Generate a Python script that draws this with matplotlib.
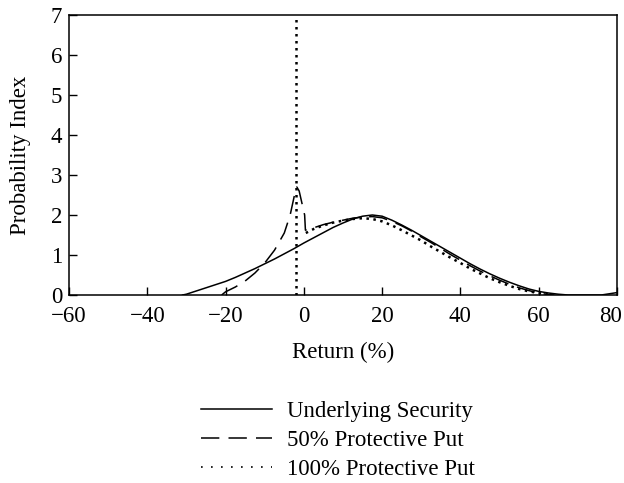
import matplotlib
matplotlib.use("Agg")
import matplotlib.pyplot as plt
from matplotlib.lines import Line2D
from matplotlib.transforms import ScaledTranslation

plt.rcParams['font.family'] = ['Liberation Serif', 'DejaVu Serif']
plt.rcParams['font.size'] = 16.5

# Underlying security (solid)
x_under = [-31, -30, -27.5, -25, -22.5, -20, -17.5, -15, -12.5, -10, -7.5, -5, -2.5, 0,
           2.5, 5, 7.5, 10, 12.5, 15, 17.5, 20, 22.5, 25, 27.5, 30, 32.5, 35, 37.5, 40,
           42.5, 45, 47.5, 50, 52.5, 55, 57.5, 60, 62.5, 65, 67.5, 76, 78, 80]
y_under = [0, 0.02, 0.1, 0.18, 0.26, 0.34, 0.44, 0.55, 0.66, 0.78, 0.9, 1.03, 1.16, 1.3,
           1.43, 1.56, 1.69, 1.8, 1.9, 1.97, 2.0, 1.97, 1.87, 1.75, 1.62, 1.48, 1.34, 1.2, 1.06, 0.92,
           0.78, 0.65, 0.53, 0.42, 0.32, 0.23, 0.15, 0.09, 0.05, 0.02, 0.0, 0.0, 0.03, 0.06]

# 50% protective put (dashed)
x_put50 = [-21, -20, -17.5, -15, -12.5, -10, -7.5, -5, -3.5, -2.5, -1.8, -1.2, -0.5, 0.2, 0.4,
           2.5, 5, 7.5, 10, 12.5, 15, 17.5, 20, 22.5, 25, 27.5, 30, 32.5, 35, 37.5, 40,
           42.5, 45, 47.5, 50, 52.5, 55, 57.5, 60, 62.5, 64]
y_put50 = [0, 0.08, 0.2, 0.35, 0.55, 0.8, 1.12, 1.55, 2.0, 2.45, 2.7, 2.6, 2.3, 2.0, 1.62,
           1.68, 1.76, 1.82, 1.87, 1.92, 1.95, 1.96, 1.93, 1.84, 1.73, 1.6, 1.45, 1.31, 1.16, 1.01, 0.87,
           0.73, 0.6, 0.48, 0.37, 0.27, 0.18, 0.11, 0.05, 0.01, 0]

# 100% protective put (dotted): point mass at the floor, then the curve
x_spike = [-2, -2]
y_spike = [0, 7]
x_put100 = [0.5, 2.5, 5, 7.5, 10, 12.5, 15, 17.5, 20, 22.5, 25, 27.5, 30, 32.5, 35, 37.5, 40,
            42.5, 45, 47.5, 50, 52.5, 55, 57.5, 60, 62.5]
y_put100 = [1.55, 1.65, 1.74, 1.81, 1.86, 1.9, 1.92, 1.9, 1.84, 1.74, 1.62, 1.49, 1.36, 1.21, 1.07,
            0.93, 0.8, 0.66, 0.54, 0.42, 0.32, 0.23, 0.15, 0.09, 0.05, 0.01]

labels = ['Underlying Security', '50% Protective Put', '100% Protective Put']

fig = plt.figure(figsize=(6.24, 4.83), dpi=100)
ax = fig.add_axes([69 / 624, 1 - 295 / 483, 548 / 624, 280 / 483])

ax.plot(x_under, y_under, color='black', lw=1.1)
ax.plot(x_put50, y_put50, color='black', lw=1.1, linestyle=(0, (12, 6)))
ax.plot(x_spike, y_spike, color='black', lw=1.8, linestyle=(0, (1, 1.8)))
ax.plot(x_put100, y_put100, color='black', lw=1.8, linestyle=(0, (1, 1.8)))

ax.set_xlim(-60, 80)
ax.set_ylim(0, 7)
ax.set_xticks(range(-60, 81, 20))
ax.set_yticks(range(0, 8))
ax.tick_params(axis='x', direction='in', length=6, width=1, pad=8)
ax.tick_params(axis='y', direction='in', length=6, width=1, pad=5)
for s in ax.spines.values():
    s.set_linewidth(1.1)

# nudge the last x label so it stays inside the figure
last = ax.xaxis.get_major_ticks()[-1].label1
last.set_transform(last.get_transform() + ScaledTranslation(-6 / 100, 0, fig.dpi_scale_trans))

ax.set_xlabel('Return (%)')
ax.set_ylabel('Probability Index')
ax.xaxis.set_label_coords(0.5, -0.168)
ax.yaxis.set_label_coords(-0.07, 0.5)

handles = [Line2D([], [], color='black', lw=1.1),
           Line2D([], [], color='black', lw=1.1, linestyle=(0, (12, 6))),
           Line2D([], [], color='black', lw=1.2, linestyle=(0, (1, 5)))]
fig.legend(handles, labels, loc='upper center', bbox_to_anchor=(338 / 624, 1 - 390 / 483),
           frameon=False, handlelength=3.1, handletextpad=0.65, labelspacing=0.33, borderpad=0)

fig.savefig('out.png', dpi=100)
